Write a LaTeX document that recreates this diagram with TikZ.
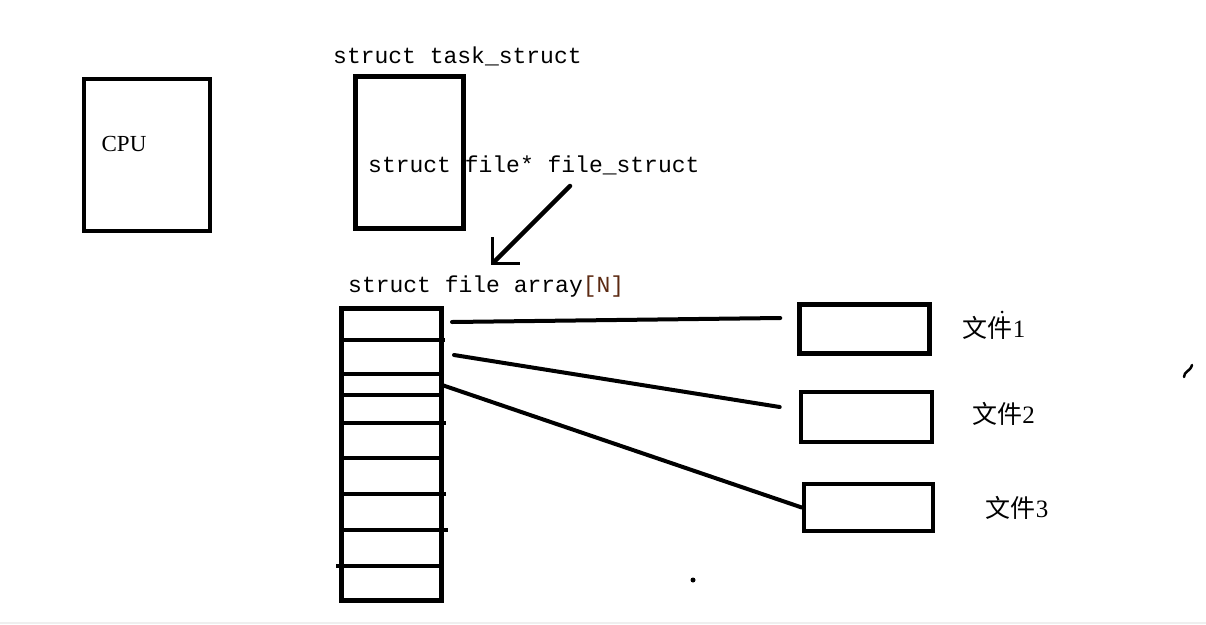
\documentclass[tikz,border=0pt]{standalone}
\usepackage{fontspec}
\setmainfont{Liberation Serif}
\setmonofont{Liberation Mono}
\newfontfamily\cjk{Noto Sans CJK SC}
\usetikzlibrary{arrows.meta}
\definecolor{Ink}{HTML}{000000}
\definecolor{Rust}{HTML}{5C2A12}
\definecolor{Edge}{HTML}{EFEFEF}

\begin{document}
\begin{tikzpicture}[x=1pt,y=-1pt,
    box/.style={draw=Ink,line width=4.5pt,inner sep=0pt},
    code/.style={font=\ttfamily\fontsize{23}{28}\selectfont,inner sep=0pt,anchor=base west},
    lbl/.style={font=\fontsize{23}{28}\selectfont,inner sep=0pt},
    filelbl/.style={font=\fontsize{25}{30}\selectfont,inner sep=0pt},
    link/.style={Ink,line width=4pt,line cap=round},
    slot/.style={Ink,line width=4pt}]
    \useasboundingbox (0,0) rectangle (1206,624);
    \draw[Edge,line width=1.5pt] (0,623)--(1206,623);

    % cpu and task
    \node[box,minimum width=126pt,minimum height=152pt] (cpu) at (147,155) {};
    \node[lbl] (cpulab) at (124,144) {CPU};
    \node[code] (tasklab) at (333,63) {struct task\_struct};
    \node[box,minimum width=108pt,minimum height=152pt] (task) at (409.5,152.5) {};
    \node[code] (fieldlab) at (368,172) {struct file* file\_struct};

    % pointer into the array
    \coordinate (ptrtail) at (570,186);
    \coordinate (ptrtip) at (491,265);
    \draw[link,line width=4.5pt,-{Straight Barb[angle=90:27pt,line width=3pt]}]
      (ptrtail)--(ptrtip);

    % fd array
    \node[code] (arrlab) at (348,292) {struct file array\textcolor{Rust}{[N]}};
    \node[box,minimum width=100pt,minimum height=292pt] (arr) at (391.5,454.5) {};
    \foreach \y/\xa/\xb in {
      340/341/445,374/341/444,395/341/441,423/341/446,
      458/341/441,494/341/446,530/341/448,566/336/441}
      {
        \draw[slot] (\xa,\y)--(\xb,\y);
      }

    % open files
    \node[box,minimum width=130pt,minimum height=49pt] (file1) at (864.5,329) {};
    \node[box,minimum width=131pt,minimum height=50pt] (file2) at (866.5,417) {};
    \node[box,minimum width=129pt,minimum height=47pt] (file3) at (868.5,507.5) {};
    \node[filelbl] (lab1) at (994,328) {{\cjk 文件}1};
    \node[filelbl] (lab2) at (1003.5,414) {{\cjk 文件}2};
    \node[filelbl] (lab3) at (1017,508) {{\cjk 文件}3};

    \coordinate (fd0) at (452,322);
    \coordinate (fd1) at (454,355);
    \coordinate (fd2) at (442,385);
    \draw[link] (fd0)--([xshift=-17pt,yshift=11pt]file1.west);
    \draw[link] (fd1)--([xshift=-19pt,yshift=10pt]file2.west);
    \draw[link] (fd2)--(file3.west);

    % stray pen marks
    \fill[Ink] (693,580) circle (2.5pt);
    \fill[Ink] (1002,312) circle (1.5pt);
    \draw[Ink,line width=2.5pt,line cap=round]
      (1184,377) .. controls (1184,371) and (1190,372) .. (1192,365);
  \end{tikzpicture}
\end{document}
